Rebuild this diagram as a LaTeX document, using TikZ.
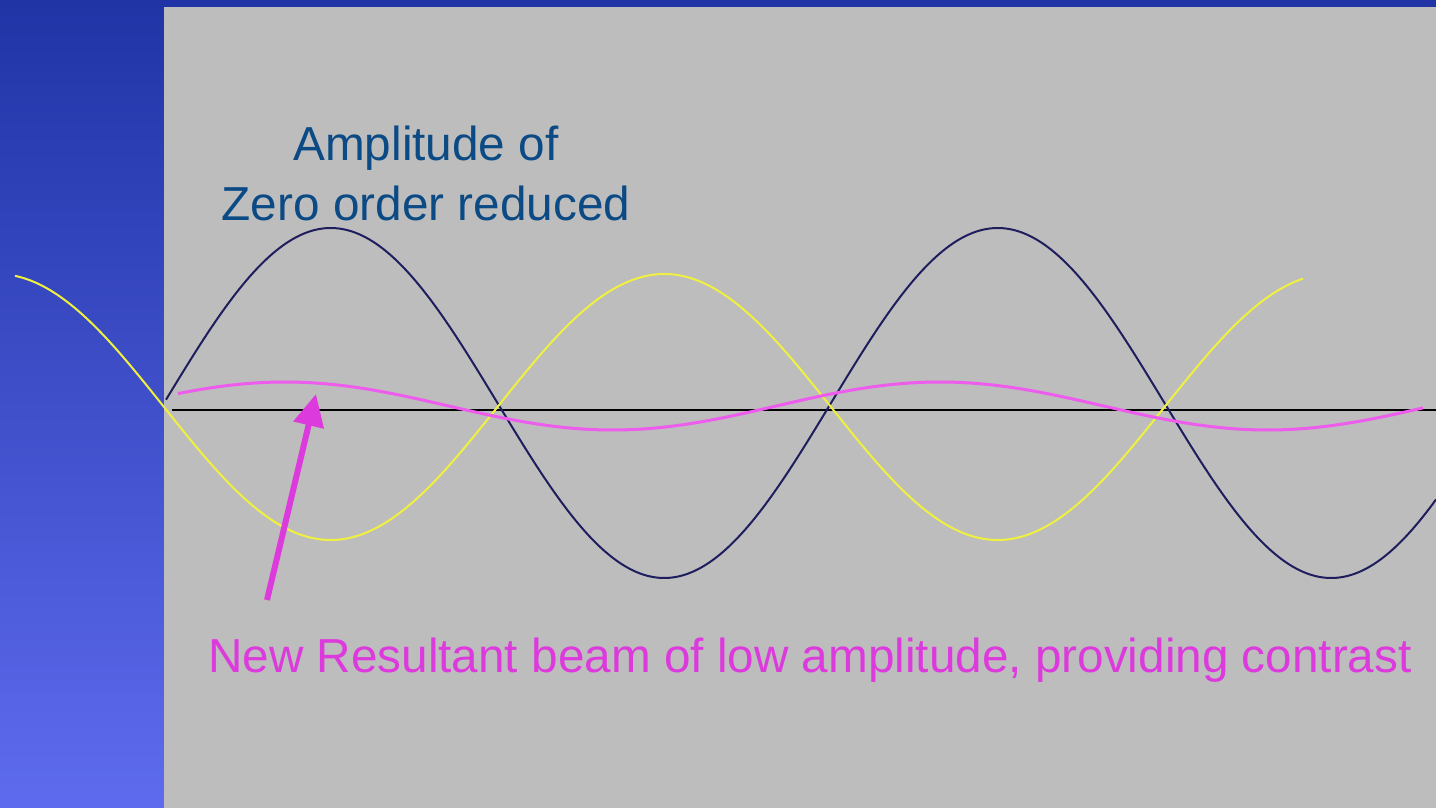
\documentclass[tikz,border=0pt]{standalone}
\usepackage{fontspec}
\setmainfont{Liberation Sans}
\usetikzlibrary{arrows.meta}
\definecolor{bgtop}{HTML}{2034A6}
\definecolor{bgbot}{HTML}{5E6BEE}
\definecolor{panel}{HTML}{BDBDBD}
\definecolor{navywave}{HTML}{1E1E5E}
\definecolor{yellowwave}{HTML}{F0F040}
\definecolor{magwave}{HTML}{EE5CEE}
\definecolor{magtext}{HTML}{DD3ADD}
\definecolor{titleblue}{HTML}{0B4A84}
\tikzset{
  wave/.style={line width=2pt, line join=round},
  pointer/.style={draw=magtext, line width=6pt, -{Triangle[width=30pt,length=32pt]}},
  bigtext/.style={font=\fontsize{47.7}{60}\selectfont, inner sep=0pt}
}
\begin{document}
\begin{tikzpicture}[x=1pt,y=-1pt]
\useasboundingbox (0,0) rectangle (1436,808);
% background
\shade[top color=bgtop, bottom color=bgbot] (0,0) rectangle (1436,808);
\fill[panel] (164,7) rectangle (1436,808);
% axis
\draw[black, line width=2pt] (172,410) -- (1436,410);
% waves
\draw[wave, navywave] plot[domain=166:1436, samples=400, smooth] (\x,{403-175*sin(((\x-164)/667)*360)});
\draw[wave, yellowwave] plot[domain=15:1303, samples=400, smooth] (\x,{407+133*sin(((\x-164)/667)*360)});
\draw[wave, magwave, line width=3pt] plot[domain=178:1423, samples=300, smooth] (\x,{406-24*sin(((\x-121.25)/655)*360)});
% texts
\node[bigtext, text=titleblue, align=center, anchor=base] (title) at (426,220) {Amplitude of\\Zero order reduced};
\node[bigtext, text=magtext, anchor=base] (caption) at (810,672) {New Resultant beam of low amplitude, providing contrast};
% arrow
\coordinate (tail) at (267,600);
\coordinate (tip) at (316,394);
\draw[pointer] (tail) -- (tip);
\end{tikzpicture}
\end{document}
